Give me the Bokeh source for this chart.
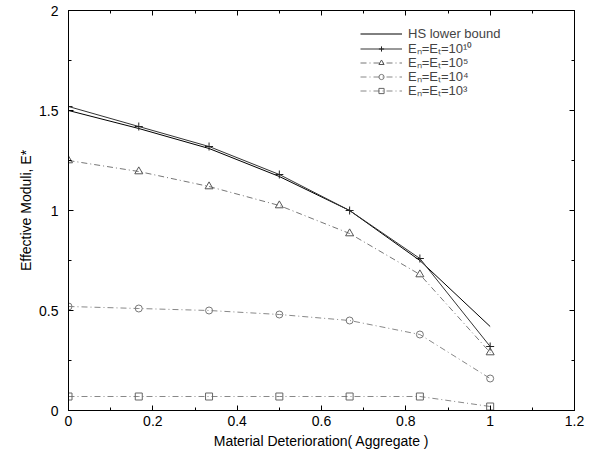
from bokeh.plotting import figure
from bokeh.models import Range1d, LinearAxis, FixedTicker, Legend, LegendItem
from bokeh.embed import file_html
from bokeh.resources import INLINE

x = [0, 1/6, 2/6, 3/6, 4/6, 5/6, 1.0]
hs_lower = [1.50, 1.41, 1.31, 1.17, 1.00, 0.75, 0.42]
e_1e10 = [1.52, 1.42, 1.32, 1.18, 1.00, 0.76, 0.32]
e_1e5 = [1.25, 1.195, 1.12, 1.025, 0.885, 0.68, 0.29]
e_1e4 = [0.52, 0.51, 0.50, 0.48, 0.45, 0.38, 0.16]
e_1e3 = [0.07, 0.07, 0.07, 0.07, 0.07, 0.07, 0.02]

x_ticks = [0, 0.2, 0.4, 0.6, 0.8, 1.0, 1.2]
x_minor = [0.1, 0.3, 0.5, 0.7, 0.9, 1.1]
y_ticks = [0, 0.5, 1.0, 1.5, 2.0]
y_minor = [0.25, 0.75, 1.25, 1.75]

labels = ["HS lower bound", "Eₙ=Eₜ=10¹⁰", "Eₙ=Eₜ=10⁵", "Eₙ=Eₜ=10⁴", "Eₙ=Eₜ=10³"]
x_label = "Material Deterioration( Aggregate )"
y_label = "Effective Moduli, E*"

FONT = "Liberation Sans"

p = figure(width=592, height=455, output_backend="svg", toolbar_location=None,
           x_range=Range1d(0, 1.2), y_range=Range1d(0, 2),
           min_border_left=68, min_border_right=18, min_border_top=10, min_border_bottom=45)
p.background_fill_color = "white"
p.border_fill_color = "white"
p.outline_line_color = "black"
p.outline_line_width = 1
p.grid.visible = False

p.xaxis.ticker = FixedTicker(ticks=x_ticks, minor_ticks=x_minor)
p.yaxis.ticker = FixedTicker(ticks=y_ticks, minor_ticks=y_minor)
for ax in (p.xaxis[0], p.yaxis[0]):
    ax.major_tick_in = 5
    ax.major_tick_out = 0
    ax.minor_tick_in = 3
    ax.minor_tick_out = 0
    ax.major_label_text_font = FONT
    ax.major_label_text_font_size = "14px"
    ax.major_label_text_color = "black"
    ax.axis_label_text_font = FONT
    ax.axis_label_text_font_size = "14px"
    ax.axis_label_text_font_style = "normal"
    ax.axis_label_text_color = "black"
    ax.axis_line_color = "black"
p.xaxis.axis_label = x_label
p.yaxis.axis_label = y_label
p.xaxis.major_label_standoff = 5
p.xaxis.axis_label_standoff = 4
p.yaxis.major_label_standoff = 10
p.yaxis.axis_label_standoff = 2

def hidden_axis(ticker):
    return LinearAxis(ticker=ticker, major_tick_in=5, major_tick_out=0, minor_tick_in=3,
                      minor_tick_out=0, major_label_text_font_size="0px",
                      major_label_text_alpha=0, axis_line_color="black")

p.add_layout(hidden_axis(FixedTicker(ticks=x_ticks, minor_ticks=x_minor)), "above")
p.add_layout(hidden_axis(FixedTicker(ticks=y_ticks, minor_ticks=y_minor)), "right")

groups = []
r0 = p.line(x, hs_lower, line_color="black", line_width=1)
groups.append([r0])

r1 = p.line(x, e_1e10, line_color="#333333", line_width=1)
m1 = p.scatter(x, e_1e10, marker="cross", size=8, line_color="#222222")
groups.append([r1, m1])

r2 = p.line(x, e_1e5, line_color="#777777", line_width=1, line_dash="6 3 1 3")
m2 = p.scatter(x, e_1e5, marker="triangle", size=8, line_color="#555555", fill_color=None)
groups.append([r2, m2])

r3 = p.line(x, e_1e4, line_color="#888888", line_width=1, line_dash="6 3 1 3")
m3 = p.scatter(x, e_1e4, marker="circle", size=7, line_color="#777777", fill_color=None)
groups.append([r3, m3])

r4 = p.line(x, e_1e3, line_color="#888888", line_width=1, line_dash="6 3 1 3")
m4 = p.scatter(x, e_1e3, marker="square", size=7, line_color="#666666", fill_color=None)
groups.append([r4, m4])

# one single-row legend per series, so rows can sit close together as in the reference
for i, (lab, rs) in enumerate(zip(labels, groups)):
    y0 = 369 if i == 0 else 353 - 14 * (i - 1)
    lg = Legend(items=[LegendItem(label=lab, renderers=rs)], location=(292, y0))
    lg.background_fill_alpha = 0
    lg.border_line_color = None
    lg.label_text_font = FONT
    lg.label_text_font_size = "13px"
    lg.label_height = 13
    lg.glyph_height = 13
    lg.glyph_width = 42
    lg.label_standoff = 6
    lg.padding = 0
    lg.margin = 0
    p.add_layout(lg, "center")

open("out.html", "w").write(file_html(p, INLINE))
